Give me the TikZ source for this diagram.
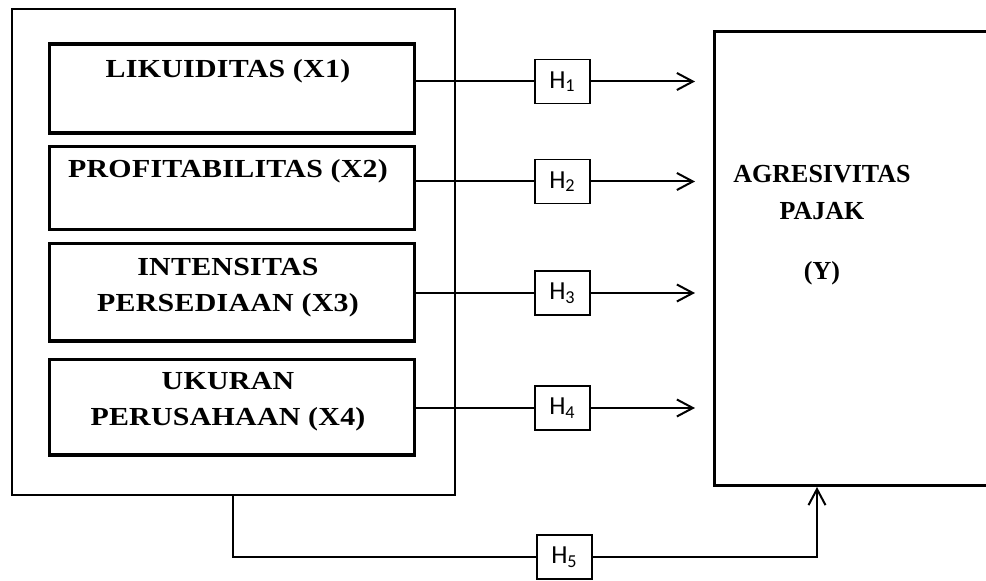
\documentclass[tikz,border=0pt]{standalone}
\usepackage{fontspec}
\setmainfont{Liberation Serif}
\newfontfamily\boxfont[FakeStretch=1.15,LetterSpace=1]{Liberation Serif}
\newfontfamily\hfont{Carlito}
\usetikzlibrary{arrows.meta}
\tikzset{
  outerbox/.style={draw, line width=1pt, minimum width=221.75pt, minimum height=242.75pt, anchor=north west, inner sep=0pt, outer sep=0pt},
  varbox/.style={draw, line width=1.75pt, minimum width=182.5pt, anchor=north west, inner sep=0pt},
  vartext/.style={anchor=base, inner sep=0pt, font=\boxfont\bfseries\fontsize{13pt}{18pt}\selectfont},
  ytext/.style={anchor=base, inner sep=0pt, font=\bfseries\fontsize{13pt}{18pt}\selectfont},
  ybox/.style={draw, line width=1.5pt, minimum width=141pt, minimum height=226.75pt, anchor=north west, inner sep=0pt},
  hbox/.style={draw, line width=0.6pt, minimum width=27.5pt, minimum height=22pt, inner sep=0pt, fill=white, font=\hfont\fontsize{13pt}{14pt}\selectfont},
  conn/.style={line width=1pt},
  arr/.style={line width=1pt, -{Straight Barb[length=8pt,width=8.5pt]}}
}
\begin{document}
\begin{tikzpicture}[x=0.5pt,y=-0.5pt]
\useasboundingbox (0,0) rectangle (986,581);
\clip (0,0) rectangle (986,581);
% left group
\node[outerbox] (outer) at (11.5,9.5) {};
\node[varbox, minimum height=44.5pt] (b1) at (47.5,42.5) {};
\node[varbox, minimum height=41.5pt] (b2) at (47.5,145) {};
\node[varbox, minimum height=48.7pt] (b3) at (47.5,241.7) {};
\node[varbox, minimum height=47.8pt] (b4) at (47.5,357.7) {};
\node[vartext] (t1) at (228,77.5) {LIKUIDITAS (X1)};
\node[vartext] (t2) at (228,178) {PROFITABILITAS (X2)};
\node[vartext] (t3a) at (228,276) {INTENSITAS};
\node[vartext] (t3b) at (228,311.5) {PERSEDIAAN (X3)};
\node[vartext] (t4a) at (228,390) {UKURAN};
\node[vartext] (t4b) at (228,426) {PERUSAHAAN (X4)};
% dependent variable
\node[ybox] (yb) at (713.3,30.5) {};
\node[ytext] (y1) at (822,183) {AGRESIVITAS};
\node[ytext] (y2) at (822,220) {PAJAK};
\node[ytext] (y3) at (822,280) {(Y)};
% hypotheses
\node[hbox] (h1) at (562.5,81.5) {H\textsubscript{1}};
\node[hbox] (h2) at (562.5,181.5) {H\textsubscript{2}};
\node[hbox] (h3) at (562.5,293) {H\textsubscript{3}};
\node[hbox] (h4) at (562.5,408) {H\textsubscript{4}};
\node[hbox] (h5) at (564.5,557) {H\textsubscript{5}};
\coordinate (a1) at (695,81.5);
\coordinate (a2) at (695,181.5);
\coordinate (a3) at (695,293);
\coordinate (a4) at (695,408);
\coordinate (d5) at (233.3,557);
\coordinate (c5) at (817,557);
% connectors
\draw[conn] (h1.west -| b1.east) -- (h1.west);
\draw[arr] (h1.east) -- (a1);
\draw[conn] (h2.west -| b2.east) -- (h2.west);
\draw[arr] (h2.east) -- (a2);
\draw[conn] (h3.west -| b3.east) -- (h3.west);
\draw[arr] (h3.east) -- (a3);
\draw[conn] (h4.west -| b4.east) -- (h4.west);
\draw[arr] (h4.east) -- (a4);
\draw[conn] (outer.south -| d5) -- (d5) -- (h5.west);
\draw[arr] (h5.east) -- (c5) -- (c5 |- yb.south);
\end{tikzpicture}
\end{document}
